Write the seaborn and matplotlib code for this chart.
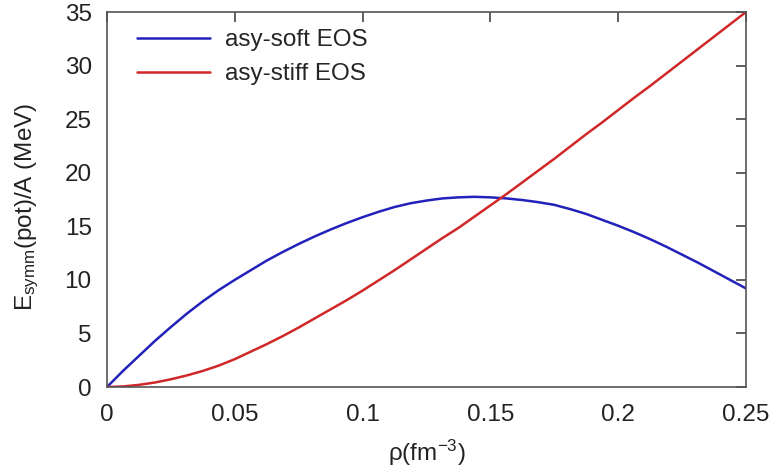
import matplotlib
matplotlib.use("Agg")
import matplotlib.pyplot as plt
import seaborn as sns
import pandas as pd

# density grid (fm^-3)
rho = [0.0, 0.00625, 0.0125, 0.01875, 0.025, 0.03125, 0.0375, 0.04375,
       0.05, 0.05625, 0.0625, 0.06875, 0.075, 0.08125, 0.0875, 0.09375,
       0.1, 0.10625, 0.1125, 0.11875, 0.125, 0.13125, 0.1375, 0.14375,
       0.15, 0.15625, 0.1625, 0.16875, 0.175, 0.18125, 0.1875, 0.19375,
       0.2, 0.20625, 0.2125, 0.21875, 0.225, 0.23125, 0.2375, 0.24375, 0.25]

# potential part of the symmetry energy per nucleon (MeV)
asy_soft = [0.0, 1.5, 2.9, 4.3, 5.6, 6.85, 8.0, 9.05,
            10.0, 10.9, 11.8, 12.6, 13.35, 14.05, 14.7, 15.3,
            15.85, 16.35, 16.8, 17.15, 17.4, 17.6, 17.7, 17.75,
            17.7, 17.6, 17.45, 17.25, 17.0, 16.6, 16.15, 15.6,
            15.05, 14.45, 13.8, 13.1, 12.35, 11.6, 10.8, 10.0, 9.2]
asy_stiff = [0.0, 0.05, 0.2, 0.42, 0.72, 1.08, 1.5, 2.0,
             2.6, 3.3, 4.0, 4.75, 5.55, 6.4, 7.25, 8.1,
             9.0, 9.95, 10.9, 11.9, 12.9, 13.9, 14.85, 15.9,
             16.95, 18.0, 19.1, 20.2, 21.3, 22.45, 23.6, 24.7,
             25.85, 27.0, 28.1, 29.25, 30.4, 31.55, 32.7, 33.85, 35.0]

series_names = ["asy-soft EOS", "asy-stiff EOS"]
x_ticks = [0, 0.05, 0.1, 0.15, 0.2, 0.25]
x_tick_labels = ["0", "0.05", "0.1", "0.15", "0.2", "0.25"]
y_ticks = [0, 5, 10, 15, 20, 25, 30, 35]

df = pd.concat([
    pd.DataFrame({"rho": rho, "E": asy_soft, "EOS": series_names[0]}),
    pd.DataFrame({"rho": rho, "E": asy_stiff, "EOS": series_names[1]}),
], ignore_index=True)

sns.set_theme(style="white")
plt.rcParams["font.family"] = ["Liberation Sans", "DejaVu Sans"]
plt.rcParams["mathtext.fontset"] = "custom"
plt.rcParams["mathtext.rm"] = "Liberation Sans"
plt.rcParams["mathtext.it"] = "Liberation Sans"
plt.rcParams["mathtext.default"] = "regular"

fig = plt.figure(figsize=(7.76, 4.73), dpi=100)
ax = fig.add_axes([107 / 776, 1 - 387 / 473, (746 - 107) / 776, (387 - 12) / 473])

palette = {"asy-soft EOS": "#2222bb", "asy-stiff EOS": "#d02828"}
sns.lineplot(data=df, x="rho", y="E", hue="EOS", palette=palette,
             linewidth=1.8, ax=ax, sort=False)

ax.set_xlim(0, 0.25)
ax.set_ylim(0, 35)
ax.set_xticks(x_ticks)
ax.set_xticklabels(x_tick_labels)
ax.set_yticks(y_ticks)

fs = 17.5
ax.tick_params(axis="both", which="both", direction="in", length=7, width=1.2,
               color="#444444", labelsize=fs, top=True, right=True,
               labelcolor="#222222")
ax.tick_params(axis="x", pad=12)
ax.tick_params(axis="y", pad=11)
for s in ax.spines.values():
    s.set_color("#555555")
    s.set_linewidth(1.2)

ax.set_xlabel(r"ρ(fm$^{-3}$)", fontsize=fs, color="#222222")
ax.set_ylabel(r"E$_{symm}$(pot)/A (MeV)", fontsize=fs, color="#222222")
ax.yaxis.set_label_coords(-0.104, 0.48)
ax.xaxis.set_label_coords(0.5, -0.135)

leg = ax.legend(loc="upper left", frameon=False, fontsize=fs,
                handlelength=3.0, handletextpad=0.62, labelspacing=0.5,
                bbox_to_anchor=(0.02, 1.0), borderaxespad=0.3)

fig.savefig("out.png", dpi=100)
